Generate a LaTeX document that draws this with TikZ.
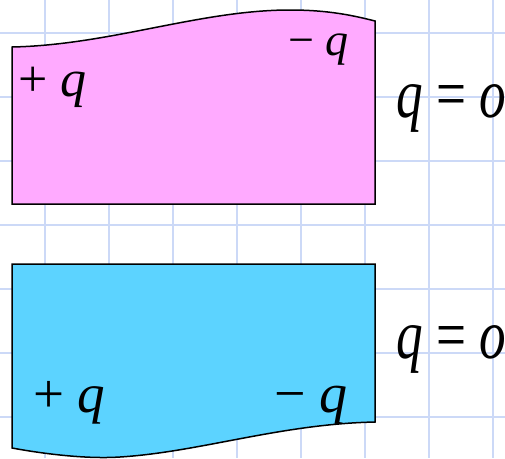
\documentclass[tikz,border=0pt]{standalone}
\usepackage{fontspec}
\setmainfont{Liberation Serif}
\newfontfamily\chnarrow[FakeStretch=0.76]{Liberation Serif}
\usepackage{tikz}
\definecolor{chGrid}{HTML}{CCD9F7}
\definecolor{chPink}{HTML}{FFAAFF}
\definecolor{chCyan}{HTML}{5CD3FF}
\tikzset{
  chgrid/.style={draw=chGrid, line width=2pt},
  chplate/.style={draw=black, line width=1.5pt, line join=miter},
  chlabel/.style={inner sep=0pt, anchor=base west, text=black},
  chsum/.style={chlabel, font=\chnarrow\fontsize{70}{70}\selectfont},
}
\newcommand{\chq}{\textit{q}}
\begin{document}
\begin{tikzpicture}[x=1pt, y=-1pt]
  \useasboundingbox (0,0) rectangle (505,458);
  % squared paper
  \foreach \gx in {45,109,...,493} \draw[chgrid] (\gx,0) -- (\gx,458);
  \foreach \gy in {33,97,...,417} \draw[chgrid] (0,\gy) -- (505,\gy);
  % upper plate, wavy top
  \draw[chplate, fill=chPink] (12,204) -- (12,47)
    .. controls (110,45) and (200,10) .. (290,10)
    .. controls (330,10) and (355,16) .. (375,21) -- (375,204) -- cycle;
  % lower plate, wavy bottom
  \draw[chplate, fill=chCyan] (12,264) -- (375,264) -- (375,422)
    .. controls (280,424) and (200,452) .. (120,457)
    .. controls (90,459) and (50,455) .. (12,448) -- cycle;
  \node[chlabel, font=\fontsize{52}{52}\selectfont] (pq1) at (18,96) {+ \chq};
  \node[chlabel, font=\fontsize{46}{46}\selectfont] (mq1) at (288,55) {− \chq};
  \node[chsum] (sum1) at (396,117) {\chq{} = \textit{o}};
  \node[chlabel, font=\fontsize{55}{55}\selectfont] (pq2) at (33,412) {+ \chq};
  \node[chlabel, font=\fontsize{56}{56}\selectfont] (mq2) at (274,412) {− \chq};
  \node[chsum] (sum2) at (396,358) {\chq{} = \textit{o}};
\end{tikzpicture}
\end{document}
